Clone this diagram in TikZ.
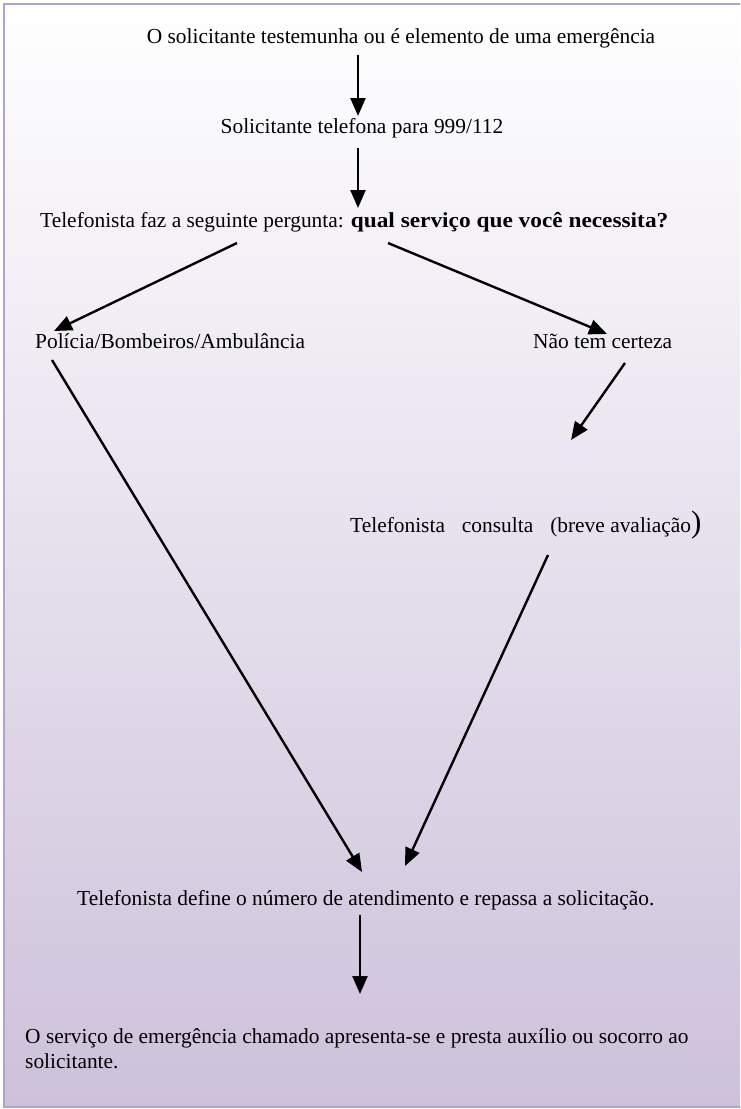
\documentclass[tikz,border=0pt]{standalone}
\usepackage{fontspec}
\setmainfont{Liberation Serif}
\usetikzlibrary{arrows.meta}
\definecolor{framec}{HTML}{B3A2CC}
\definecolor{bottomc}{HTML}{CDC1DB}
\begin{document}
\begin{tikzpicture}[x=1pt,y=-1pt,
  lbl/.style={inner sep=0pt, font=\fontsize{21.4}{25}\selectfont},
  arr/.style={line width=2.4pt, -{Triangle[length=18pt,width=15pt]}}]
\useasboundingbox (0,0) rectangle (740,1109);
% background panel with soft lavender gradient
\begin{scope}
\clip (0,0) rectangle (740,1109);
\shade[top color=white, bottom color=bottomc] (4,4) rectangle (770,1107);
\draw[framec, line width=2.8pt] (4,4) rectangle (770,1107);
\end{scope}

% texts
\node[lbl] (t1) at (401,38) {O solicitante testemunha ou é elemento de uma emergência};
\node[lbl] (t2) at (362,128) {Solicitante telefona para 999/112};
\node[lbl, anchor=west] (t3) at (40,222) {Telefonista faz a seguinte pergunta: {\bfseries\addfontfeature{FakeStretch=1.09}qual serviço que você necessita?}};
\node[lbl, anchor=west] (t4) at (35,341) {Polícia/Bombeiros/Ambulância};
\node[lbl, anchor=west] (t5) at (533,341) {Não tem certeza};
\node[lbl, anchor=west] (t6) at (350,525) {Telefonista\hspace{17pt}consulta\hspace{17pt}(breve avaliação{\fontsize{31}{31}\selectfont)}};
\node[lbl, anchor=west] (t7) at (77,900) {Telefonista define o número de atendimento e repassa a solicitação.};
\node[lbl, anchor=west, align=left] (t8) at (25,1049) {O serviço de emergência chamado apresenta-se e presta auxílio ou socorro ao\\solicitante.};

% connector end points
\coordinate (a1s) at (358,55);   \coordinate (a1e) at (358,116);
\coordinate (a2s) at (358,148);  \coordinate (a2e) at (358,208);
\coordinate (a3s) at (237,243);  \coordinate (a3e) at (54,331);
\coordinate (a4s) at (388,243);  \coordinate (a4e) at (607,334);
\coordinate (a5s) at (52,360);   \coordinate (a5e) at (362,872);
\coordinate (a6s) at (625,363);  \coordinate (a6e) at (571,440);
\coordinate (a7s) at (548,555);  \coordinate (a7e) at (405,866);
\coordinate (a8s) at (360,915);  \coordinate (a8e) at (360,994);

\draw[arr] (a1s) -- (a1e);
\draw[arr] (a2s) -- (a2e);
\draw[arr] (a3s) -- (a3e);
\draw[arr] (a4s) -- (a4e);
\draw[arr] (a5s) -- (a5e);
\draw[arr] (a6s) -- (a6e);
\draw[arr] (a7s) -- (a7e);
\draw[arr] (a8s) -- (a8e);
\end{tikzpicture}
\end{document}
